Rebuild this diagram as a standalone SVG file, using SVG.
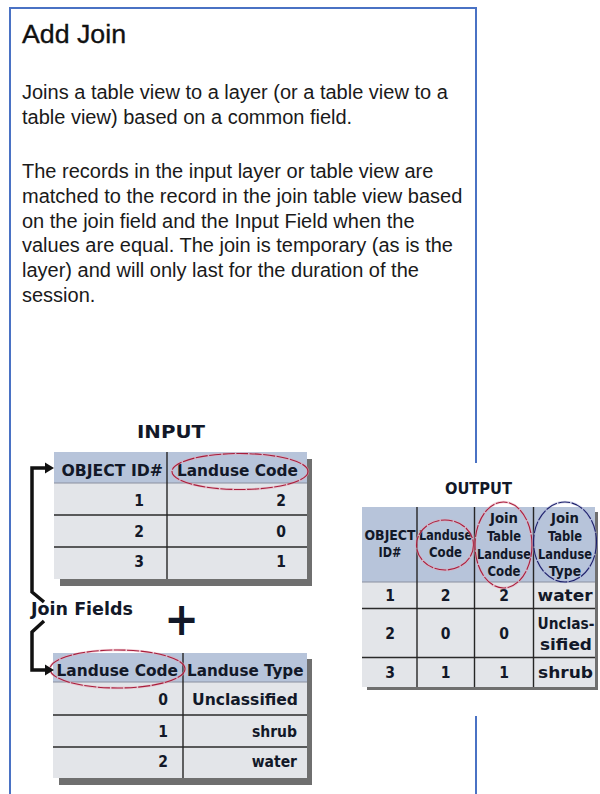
<svg xmlns="http://www.w3.org/2000/svg" width="600" height="794" viewBox="0 0 600 794">
  <style>
    .title{font-family:"Liberation Sans",Arial,sans-serif;font-size:26.5px;fill:#111;stroke:#111;stroke-width:.35}
    .body{font-family:"Liberation Sans",Arial,sans-serif;font-size:20px;fill:#1a1a1a}
    .tb{font-family:"DejaVu Sans Condensed","DejaVu Sans",sans-serif;font-weight:bold;fill:#121828}
    .hd{font-size:15.5px}
    .sm{font-size:13.5px}
    .v{font-size:15.5px}
    .hdr{fill:#b7c4da}
    .row{fill:#e3e5e9}
    .shadow{fill:#6f6f6f}
    .sep{stroke:#2a2a2a;stroke-width:1.6}
    .div{stroke:#262626;stroke-width:1.4}
    .hl{stroke:#8a90a0;stroke-width:1}
    .glow{fill:none;stroke:#eaa6b6;stroke-width:2.6;opacity:.5}
    .ring-red{fill:none;stroke:#a81e3c;stroke-width:1.1;stroke-dasharray:12 1.5}
    .glow-blue{fill:none;stroke:#a4a8d8;stroke-width:2.6;opacity:.4}
    .ring-blue{fill:none;stroke:#1c206a;stroke-width:1.1;stroke-dasharray:12 1.5}
    .link{fill:none;stroke:#111;stroke-width:3.5}
  </style>

  <rect width="600" height="794" fill="#fff"/>

  <!-- help panel frame -->
  <path d="M10 794 V8 H476 V463 M476 716 V794" fill="none" stroke="#4a72c4" stroke-width="2"/>

  <g id="description">
    <text class="title" x="22" y="43" textLength="104" lengthAdjust="spacingAndGlyphs">Add Join</text>
    <text class="body" x="22" y="99">Joins a table view to a layer (or a table view to a</text>
    <text class="body" x="22" y="124">table view) based on a common field.</text>
    <text class="body" x="22" y="178">The records in the input layer or table view are</text>
    <text class="body" x="22" y="203">matched to the record in the join table view based</text>
    <text class="body" x="22" y="228">on the join field and the Input Field when the</text>
    <text class="body" x="22" y="252">values are equal. The join is temporary (as is the</text>
    <text class="body" x="22" y="277">layer) and will only last for the duration of the</text>
    <text class="body" x="22" y="302">session.</text>
  </g>

  <!-- input table -->
  <g id="input-table">
    <text class="tb" x="171" y="438" font-size="18" text-anchor="middle" textLength="68" lengthAdjust="spacingAndGlyphs">INPUT</text>
    <rect class="shadow" x="60" y="459" width="252" height="127"/>
    <rect class="hdr" x="54" y="452" width="253" height="31"/>
    <rect class="row" x="54" y="483" width="253" height="96"/>
    <line class="hl" x1="54" y1="483" x2="307" y2="483"/>
    <line class="sep" x1="54" y1="515" x2="307" y2="515"/>
    <line class="sep" x1="54" y1="547" x2="307" y2="547"/>
    <line class="div" x1="167" y1="452" x2="167" y2="579"/>
    <text class="tb hd" x="61.5" y="476" textLength="101.5" lengthAdjust="spacingAndGlyphs">OBJECT ID#</text>
    <text class="tb hd" x="177" y="476" textLength="121" lengthAdjust="spacingAndGlyphs">Landuse Code</text>
    <text class="tb v" x="144" y="506" text-anchor="end">1</text>
    <text class="tb v" x="144" y="537" text-anchor="end">2</text>
    <text class="tb v" x="144" y="567" text-anchor="end">3</text>
    <text class="tb v" x="286" y="506" text-anchor="end">2</text>
    <text class="tb v" x="286" y="537" text-anchor="end">0</text>
    <text class="tb v" x="286" y="567" text-anchor="end">1</text>
    <ellipse class="glow" cx="240" cy="471.5" rx="68" ry="18"/>
    <ellipse class="ring-red" cx="240" cy="471.5" rx="68" ry="18"/>
  </g>

  <g id="plus">
    <text class="tb" x="181.5" y="635" font-size="46" text-anchor="middle" fill="#111">+</text>
  </g>

  <!-- join table -->
  <g id="join-table">
    <rect class="shadow" x="59" y="659" width="253" height="126"/>
    <rect class="hdr" x="53" y="653" width="254" height="29"/>
    <rect class="row" x="53" y="682" width="254" height="96"/>
    <line class="hl" x1="53" y1="682" x2="307" y2="682"/>
    <line class="sep" x1="53" y1="715" x2="307" y2="715"/>
    <line class="sep" x1="53" y1="747" x2="307" y2="747"/>
    <line class="div" x1="183" y1="653" x2="183" y2="778"/>
    <text class="tb hd" x="56.5" y="676" textLength="121.5" lengthAdjust="spacingAndGlyphs">Landuse Code</text>
    <text class="tb hd" x="187" y="676" textLength="116.5" lengthAdjust="spacingAndGlyphs">Landuse Type</text>
    <text class="tb v" x="168" y="705" text-anchor="end">0</text>
    <text class="tb v" x="168" y="737" text-anchor="end">1</text>
    <text class="tb v" x="168" y="767" text-anchor="end">2</text>
    <text class="tb v" x="192" y="705" textLength="106" lengthAdjust="spacingAndGlyphs">Unclassified</text>
    <text class="tb v" x="297" y="737" text-anchor="end">shrub</text>
    <text class="tb v" x="297" y="767" text-anchor="end">water</text>
    <ellipse class="glow" cx="117.5" cy="669" rx="67.5" ry="19"/>
    <ellipse class="ring-red" cx="117.5" cy="669" rx="67.5" ry="19"/>
  </g>

  <!-- join field connectors -->
  <g id="connectors">
    <path class="link" d="M48 468 H32 V592 L44 602"/>
    <path class="link" d="M44 621 L32 632 V670 H48"/>
    <polygon points="45,462.5 54,468 45,473.5" fill="#111"/>
    <polygon points="45,664.5 54,670 45,675.5" fill="#111"/>
    <text class="tb" x="31" y="615" font-size="17" textLength="102" lengthAdjust="spacingAndGlyphs">Join Fields</text>
  </g>

  <!-- output table -->
  <g id="output-table">
    <rect x="355" y="463" width="245" height="253" fill="#fff"/>
    <text class="tb" x="478.5" y="494" font-size="16" text-anchor="middle" textLength="67" lengthAdjust="spacingAndGlyphs">OUTPUT</text>
    <rect class="shadow" x="367" y="512" width="231" height="178"/>
    <rect class="hdr" x="362" y="507" width="233" height="75"/>
    <rect class="row" x="362" y="582" width="233" height="105"/>
    <line class="hl" x1="362" y1="582" x2="595" y2="582"/>
    <line class="sep" x1="362" y1="608.5" x2="595" y2="608.5"/>
    <line class="sep" x1="362" y1="657.5" x2="595" y2="657.5"/>
    <line class="div" x1="417" y1="507" x2="417" y2="687"/>
    <line class="div" x1="474.5" y1="507" x2="474.5" y2="687"/>
    <line class="div" x1="533.5" y1="507" x2="533.5" y2="687"/>

    <text class="tb sm" x="390" y="540" text-anchor="middle" textLength="51" lengthAdjust="spacingAndGlyphs">OBJECT</text>
    <text class="tb sm" x="390" y="557" text-anchor="middle" textLength="23" lengthAdjust="spacingAndGlyphs">ID#</text>
    <text class="tb sm" x="445.5" y="540" text-anchor="middle" textLength="53" lengthAdjust="spacingAndGlyphs">Landuse</text>
    <text class="tb sm" x="445.5" y="557" text-anchor="middle" textLength="33" lengthAdjust="spacingAndGlyphs">Code</text>

    <text class="tb sm" x="504" y="523" text-anchor="middle" textLength="28" lengthAdjust="spacingAndGlyphs">Join</text>
    <text class="tb sm" x="504" y="541" text-anchor="middle" textLength="34" lengthAdjust="spacingAndGlyphs">Table</text>
    <text class="tb sm" x="504" y="559" text-anchor="middle" textLength="54" lengthAdjust="spacingAndGlyphs">Landuse</text>
    <text class="tb sm" x="504" y="576" text-anchor="middle" textLength="33" lengthAdjust="spacingAndGlyphs">Code</text>

    <text class="tb sm" x="565" y="523" text-anchor="middle" textLength="28" lengthAdjust="spacingAndGlyphs">Join</text>
    <text class="tb sm" x="565" y="541" text-anchor="middle" textLength="34" lengthAdjust="spacingAndGlyphs">Table</text>
    <text class="tb sm" x="565" y="559" text-anchor="middle" textLength="54" lengthAdjust="spacingAndGlyphs">Landuse</text>
    <text class="tb sm" x="565" y="576" text-anchor="middle" textLength="32" lengthAdjust="spacingAndGlyphs">Type</text>

    <text class="tb v" x="390" y="601" text-anchor="middle">1</text>
    <text class="tb v" x="445.5" y="601" text-anchor="middle">2</text>
    <text class="tb v" x="504" y="601" text-anchor="middle">2</text>
    <text class="tb v" x="565" y="601" text-anchor="middle" textLength="55" lengthAdjust="spacingAndGlyphs">water</text>

    <text class="tb v" x="390" y="639" text-anchor="middle">2</text>
    <text class="tb v" x="445.5" y="639" text-anchor="middle">0</text>
    <text class="tb v" x="504" y="639" text-anchor="middle">0</text>
    <text class="tb v" x="566" y="629" text-anchor="middle" textLength="57" lengthAdjust="spacingAndGlyphs">Unclas-</text>
    <text class="tb v" x="566" y="650" text-anchor="middle" textLength="52" lengthAdjust="spacingAndGlyphs">sified</text>

    <text class="tb v" x="390" y="678" text-anchor="middle">3</text>
    <text class="tb v" x="445.5" y="678" text-anchor="middle">1</text>
    <text class="tb v" x="504" y="678" text-anchor="middle">1</text>
    <text class="tb v" x="565.5" y="678" text-anchor="middle" textLength="55" lengthAdjust="spacingAndGlyphs">shrub</text>

    <ellipse class="glow" cx="445" cy="545" rx="28.5" ry="25"/>
    <ellipse class="ring-red" cx="445" cy="545" rx="28.5" ry="25"/>
    <ellipse class="glow" cx="503.5" cy="545" rx="28.5" ry="43"/>
    <ellipse class="ring-red" cx="503.5" cy="545" rx="28.5" ry="43"/>
    <ellipse class="glow-blue" cx="565" cy="542" rx="31.5" ry="40"/>
    <ellipse class="ring-blue" cx="565" cy="542" rx="31.5" ry="40"/>
  </g>
</svg>
